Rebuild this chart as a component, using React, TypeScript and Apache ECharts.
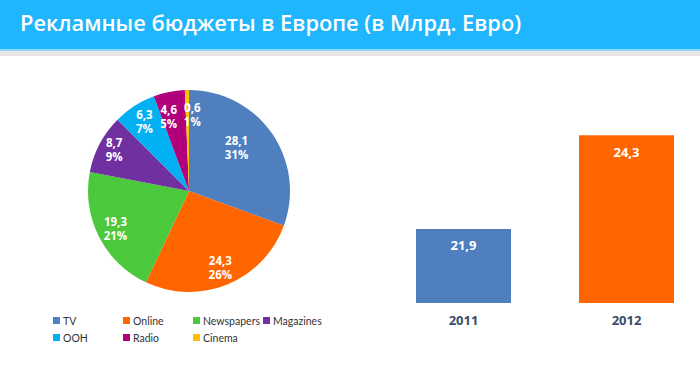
import React, { useEffect, useRef } from "react";
import * as echarts from "echarts";

const TITLE = "Рекламные бюджеты в Европе (в Млрд. Евро)";
const pieNames = ["TV", "Online", "Newspapers", "Magazines", "OOH", "Radio", "Cinema"];
const pieValues = [28.1, 24.3, 19.3, 8.7, 6.3, 4.6, 0.6];
const pieColors = ["#4f7fbe", "#ff6600", "#4cc83c", "#7030a0", "#00b0f0", "#b0007c", "#ffc000"];
const barCategories = ["2011", "2012"];
const barValues = [21.9, 24.3];
const barColors = ["#4f7fbe", "#ff6600"];

const fmt = (v: number) => v.toFixed(1).replace(".", ",");

export default function App() {
  const ref = useRef<HTMLDivElement>(null);
  useEffect(() => {
    document.body.style.margin = "0";
    const chart = echarts.init(ref.current!, null, { renderer: "svg" });
    const total = pieValues.reduce((a, b) => a + b, 0);
    const pieData = pieNames.map((n, i) => ({ name: n, value: pieValues[i], itemStyle: { color: pieColors[i] } }));
    const legendCols = [["TV", "OOH"], ["Online", "Radio"], ["Newspapers", "Cinema"], ["Magazines"]];
    const legendLefts = [53, 123, 193, 263];
    // small nudges for label placement (TV closer to centre, thin slices apart)
    const labelNudge: Record<number, { dx: number; dy: number }> = {
      0: { dx: -20, dy: 4 },
      3: { dx: -2, dy: -3 },
      5: { dx: -4, dy: 6 },
      6: { dx: 5, dy: 6 },
    };
    chart.setOption({
      animation: false,
      backgroundColor: "#ffffff",
      graphic: [
        { type: "rect", shape: { x: 0, y: 0, width: 700, height: 49 }, style: { fill: "#1fb6fd" }, silent: true },
        { type: "rect", shape: { x: 0, y: 49, width: 700, height: 2 }, style: { fill: "#8fd8fb" }, silent: true },
        { type: "rect", shape: { x: 0, y: 51, width: 700, height: 5 }, style: { fill: "#e8e6e6" }, silent: true },
        {
          type: "text",
          x: 20,
          y: 22,
          style: {
            text: TITLE,
            fill: "#ffffff",
            font: "600 21.8px 'Open Sans'",
            textVerticalAlign: "middle",
          },
          silent: true,
        },
      ],
      legend: legendCols.map((col, i) => ({
        data: col,
        orient: "vertical",
        left: legendLefts[i],
        top: 315,
        itemWidth: 7,
        itemHeight: 7,
        itemGap: 6,
        icon: "rect",
        selectedMode: false,
        padding: 0,
        textStyle: { color: "#333333", fontSize: 10.5, fontFamily: "Lato", padding: [0, 0, 0, -2] },
      })),
      grid: { left: 382, right: -8, top: 108, bottom: 83, outerBoundsMode: "none", containLabel: false },
      xAxis: {
        type: "category",
        data: barCategories,
        axisLine: { show: false },
        axisTick: { show: false },
        splitLine: { show: false },
        axisLabel: { color: "#3b4b6c", fontWeight: "bold", fontSize: 13, fontFamily: "'Open Sans'", margin: 10 },
      },
      yAxis: { type: "value", min: 20, max: 25, show: false, splitLine: { show: false } },
      series: [
        {
          type: "pie",
          center: [189, 191],
          radius: [0, 101],
          startAngle: 90,
          clockwise: true,
          data: pieData,
          label: { show: false },
          labelLine: { show: false },
          silent: true,
        },
        {
          type: "pie",
          center: [189, 191],
          radius: [58, 101],
          startAngle: 90,
          clockwise: true,
          avoidLabelOverlap: false,
          data: pieData.map((d) => ({ ...d, itemStyle: { color: "rgba(0,0,0,0)" } })),
          legendHoverLink: false,
          labelLayout: (p: any) => ({ hideOverlap: false, ...(labelNudge[p.dataIndex] || {}) }),
          label: {
            show: true,
            position: "inside",
            color: "#ffffff",
            fontWeight: "bold",
            fontSize: 11.5,
            fontFamily: "'Open Sans'",
            lineHeight: 14,
            formatter: (p: any) => `${fmt(p.value)}\n${Math.round((p.value / total) * 100)}%`,
          },
          labelLine: { show: false },
          silent: true,
        },
        {
          type: "bar",
          barWidth: 95,
          data: barValues.map((v, i) => ({ value: v, itemStyle: { color: barColors[i] } })),
          label: {
            show: true,
            position: "insideTop",
            distance: 10,
            color: "#ffffff",
            fontWeight: "bold",
            fontSize: 13,
            fontFamily: "'Open Sans'",
            formatter: (p: any) => fmt(p.value),
          },
          silent: true,
        },
      ],
    });
    return () => chart.dispose();
  }, []);
  return <div ref={ref} style={{ width: 700, height: 386 }} />;
}
